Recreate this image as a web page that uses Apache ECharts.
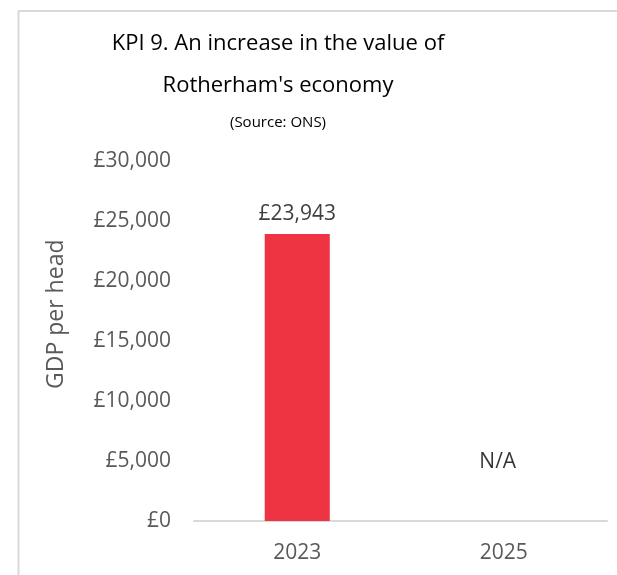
<!DOCTYPE html>
<html>
<head>
<meta charset="utf-8">
<script src="https://cdn.jsdelivr.net/npm/echarts@6/dist/echarts.min.js"></script>
<style>
  html, body { margin: 0; padding: 0; background: #ffffff; }
  #chart { width: 617px; height: 575px; }
</style>
</head>
<body>
<div id="chart"></div>
<script>
// GDP per head for Rotherham by year (ONS)
const years = ['2023', '2025'];
const gdpPerHead = [23943, null];
const missingYears = ['2025'];
const yTicks = { min: 0, max: 30000, interval: 5000 };
const titleLines = ['KPI 9. An increase in the value of', "Rotherham's economy"];
const sourceNote = '(Source: ONS)';

const FONT = '"Open Sans", sans-serif';
const fmtGBP = v => '£' + v.toLocaleString('en-GB');
const TITLE_X = 278;

// each title line is centred on its own
const titles = titleLines.map((t, i) => ({
  text: t,
  left: TITLE_X,
  top: 33 + i * 42,
  textAlign: 'center',
  padding: 0,
  textStyle: { fontFamily: FONT, fontSize: 22, fontWeight: 'normal', color: '#000000' }
}));
titles.push({
  text: sourceNote,
  left: TITLE_X,
  top: 115,
  textAlign: 'center',
  padding: 0,
  textStyle: { fontFamily: FONT, fontSize: 15, fontWeight: 'normal', color: '#000000' }
});

const chart = echarts.init(document.getElementById('chart'));
chart.setOption({
  backgroundColor: '#ffffff',
  animation: false,
  title: titles,
  grid: { left: 194, right: 10, top: 161.5, bottom: 54, containLabel: false },
  xAxis: {
    type: 'category',
    data: years,
    axisLine: { lineStyle: { color: '#d9d9d9', width: 2 } },
    axisTick: { show: false },
    axisLabel: { fontFamily: FONT, fontSize: 21, color: '#595959', margin: 22 }
  },
  yAxis: {
    type: 'value',
    min: yTicks.min, max: yTicks.max, interval: yTicks.interval,
    name: 'GDP per head',
    nameLocation: 'middle',
    nameGap: 126,
    nameTextStyle: {
      fontFamily: FONT, fontSize: 23, color: '#595959',
      padding: [0, 0, 0, 54]
    },
    axisLine: { show: false },
    axisTick: { show: false },
    splitLine: { show: false },
    axisLabel: {
      fontFamily: FONT, fontSize: 21, color: '#595959', margin: 23,
      formatter: fmtGBP
    }
  },
  series: [
    {
      type: 'bar',
      data: gdpPerHead,
      barWidth: '31.5%',
      itemStyle: { color: '#EE3342' },
      label: {
        show: true, position: 'top', distance: 10,
        fontFamily: FONT, fontSize: 21, color: '#404040',
        formatter: p => fmtGBP(p.value)
      }
    },
    {
      // years with no published figure yet
      type: 'scatter',
      data: missingYears.map(y => [y, 0]),
      symbolSize: 0,
      silent: true,
      label: {
        show: true, position: 'top', distance: 48, offset: [-6, 0],
        fontFamily: FONT, fontSize: 21, color: '#000000',
        formatter: 'N/A'
      }
    }
  ],
  graphic: [
    { type: 'line', shape: { x1: 18, y1: 11, x2: 617, y2: 11 }, style: { stroke: '#d9d9d9', lineWidth: 2 } },
    { type: 'line', shape: { x1: 18.5, y1: 11, x2: 18.5, y2: 575 }, style: { stroke: '#d9d9d9', lineWidth: 2 } }
  ]
});
</script>
</body>
</html>
